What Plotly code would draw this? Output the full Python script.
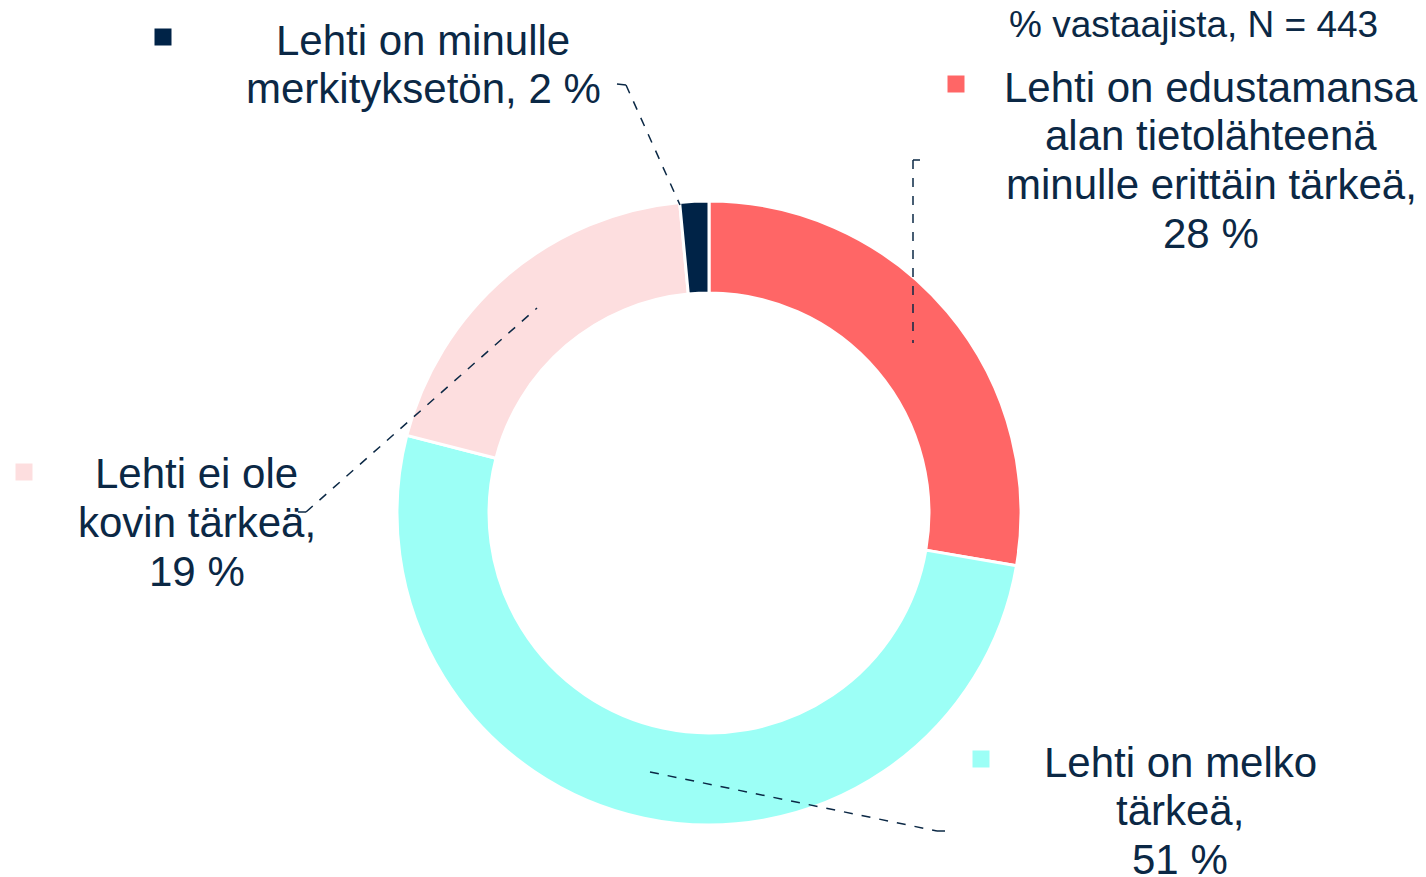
import plotly.graph_objects as go

# Data
categories = [
    "Lehti on edustamansa alan tietolähteenä minulle erittäin tärkeä",
    "Lehti on melko tärkeä",
    "Lehti ei ole kovin tärkeä",
    "Lehti on minulle merkityksetön",
]
values = [27.7, 51.3, 19.5, 1.5]
pct_labels = ["28 %", "51 %", "19 %", "2 %"]
label_lines = [
    ["Lehti on edustamansa", "alan tietolähteenä", "minulle erittäin tärkeä,", pct_labels[0]],
    ["Lehti on melko", "tärkeä,", pct_labels[1]],
    ["Lehti ei ole", "kovin tärkeä,", pct_labels[2]],
    ["Lehti on minulle", "merkityksetön, " + pct_labels[3]],
]
colors = ["#FF6666", "#9CFFF6", "#FDDEDF", "#002347"]
subtitle = "% vastaajista, N = 443"

W, H = 1426, 877
OFF = 8  # page body margin
FW, FH = W - OFF, H - OFF
TXT = "#0B2845"
FONT = "Liberation Sans, Arial, sans-serif"


def px(x):
    return (x - OFF) / FW


def py(y):
    return 1 - (y - OFF) / FH


fig = go.Figure(
    go.Pie(
        labels=categories,
        values=values,
        sort=False,
        direction="clockwise",
        rotation=0,
        hole=0.705,
        textinfo="none",
        marker=dict(colors=colors, line=dict(color="white", width=3)),
        domain=dict(x=[px(397), px(1021)], y=[py(825), py(201)]),
        showlegend=False,
    )
)

# label block positions: centre x, first line y, line step (pixels); marker squares
label_pos = [(1211, 87), (1180, 762), (197, 474), (423, 40)]
line_step = 48.8
marker_pos = [(956, 84), (981, 759), (24, 472), (163, 37)]

annotations = []
shapes = []
for lines, (cx, cy), (mx, my), col in zip(label_lines, label_pos, marker_pos, colors):
    for i, ln in enumerate(lines):
        annotations.append(dict(
            x=px(cx), y=py(cy + i * line_step), xref="paper", yref="paper", text=ln,
            showarrow=False, xanchor="center", yanchor="middle", align="center",
            font=dict(family=FONT, size=42, color=TXT),
        ))
    s = 8.5
    shapes.append(dict(type="rect", xref="paper", yref="paper",
                       x0=px(mx - s), x1=px(mx + s), y0=py(my + s), y1=py(my - s),
                       fillcolor=col, line=dict(width=0)))

annotations.append(dict(
    x=px(1193), y=py(25), xref="paper", yref="paper", text=subtitle, showarrow=False,
    xanchor="center", yanchor="middle",
    font=dict(family=FONT, size=37, color=TXT),
))

# leader lines (dashed)
leaders = [
    [(913, 160), (920, 160)], [(913, 160), (913, 343)],
    [(650, 772), (937, 831)], [(937, 831), (945, 831)],
    [(298, 512), (306, 512)], [(306, 512), (537, 308)],
    [(617, 84), (626, 85)], [(626, 85), (680, 205)],
]
for (x0, y0), (x1, y1) in leaders:
    shapes.append(dict(type="line", xref="paper", yref="paper",
                       x0=px(x0), y0=py(y0), x1=px(x1), y1=py(y1),
                       line=dict(color=TXT, width=1.5, dash="dash")))

fig.update_layout(
    width=FW, height=FH,
    margin=dict(l=0, r=0, t=0, b=0),
    paper_bgcolor="white", plot_bgcolor="white",
    annotations=annotations, shapes=shapes,
)

fig.write_html("out.html")
